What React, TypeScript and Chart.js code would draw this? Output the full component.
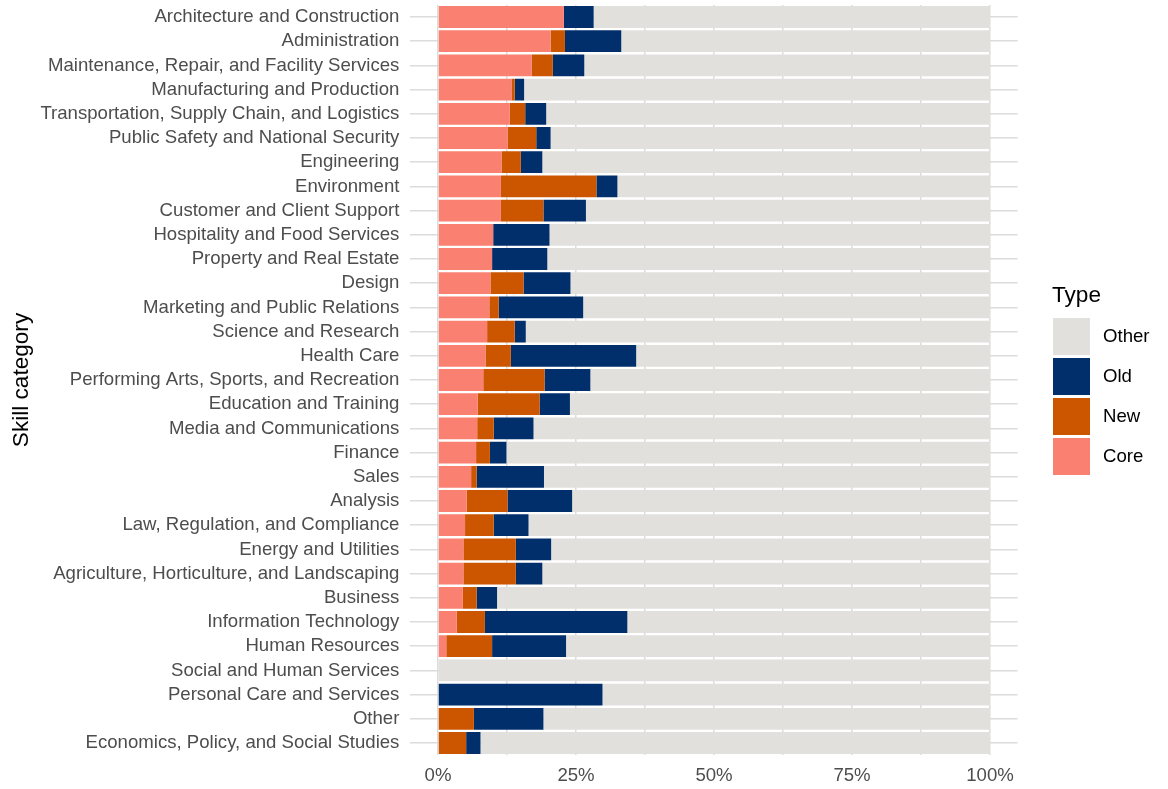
import React, { useEffect, useRef } from "react";
import { Chart, registerables } from "chart.js";

Chart.register(...registerables);

const categories = [
  "Architecture and Construction",
  "Administration",
  "Maintenance, Repair, and Facility Services",
  "Manufacturing and Production",
  "Transportation, Supply Chain, and Logistics",
  "Public Safety and National Security",
  "Engineering",
  "Environment",
  "Customer and Client Support",
  "Hospitality and Food Services",
  "Property and Real Estate",
  "Design",
  "Marketing and Public Relations",
  "Science and Research",
  "Health Care",
  "Performing Arts, Sports, and Recreation",
  "Education and Training",
  "Media and Communications",
  "Finance",
  "Sales",
  "Analysis",
  "Law, Regulation, and Compliance",
  "Energy and Utilities",
  "Agriculture, Horticulture, and Landscaping",
  "Business",
  "Information Technology",
  "Human Resources",
  "Social and Human Services",
  "Personal Care and Services",
  "Other",
  "Economics, Policy, and Social Studies",
];

const coreValues = [
  22.8, 20.4, 17.0, 13.3, 13.0, 12.6, 11.5, 11.4, 11.4, 10.0, 9.8, 9.5, 9.3,
  8.9, 8.6, 8.2, 7.2, 7.1, 6.9, 6.0, 5.2, 4.9, 4.6, 4.6, 4.5, 3.4, 1.5, 0, 0,
  0, 0,
];
const newValues = [
  0, 2.6, 3.8, 0.6, 2.8, 5.2, 3.5, 17.3, 7.7, 0, 0, 6.0, 1.7, 5.0, 4.6, 11.1,
  11.2, 3.0, 2.5, 1.0, 7.4, 5.2, 9.5, 9.5, 2.5, 5.1, 8.3, 0, 0, 6.5, 5.1,
];
const oldValues = [
  5.4, 10.2, 5.7, 1.7, 3.8, 2.6, 3.9, 3.8, 7.7, 10.2, 10.0, 8.5, 15.3, 2.0,
  22.7, 8.3, 5.5, 7.2, 3.0, 12.2, 11.7, 6.3, 6.4, 4.8, 3.7, 25.8, 13.4, 0,
  29.8, 12.6, 2.6,
];
const otherValues = [
  71.8, 66.8, 73.5, 84.4, 80.4, 79.6, 81.1, 67.5, 73.2, 79.8, 80.2, 76.0, 73.7,
  84.1, 64.1, 72.4, 76.1, 82.7, 87.6, 80.8, 75.7, 83.6, 79.5, 81.1, 89.3, 65.7,
  76.8, 100, 70.2, 80.9, 92.3,
];

const xTickValues = [0, 12.5, 25, 37.5, 50, 62.5, 75, 87.5, 100];
const xTickLabels = ["0%", "", "25%", "", "50%", "", "75%", "", "100%"];

const seriesNames = ["Core", "New", "Old", "Other"];
const seriesColors = ["#FA8072", "#CC5500", "#002F6C", "#E1E0DC"];

const FONT = "'Liberation Sans', Arial, sans-serif";
const TICK_SIZE = 18.6;
const TITLE_SIZE = 22.6;

const legendPlugin = {
  id: "typeLegend",
  afterDraw(chart: any) {
    const ctx = chart.ctx;
    ctx.save();
    ctx.fillStyle = "#000000";
    ctx.font = `${TITLE_SIZE}px ${FONT}`;
    ctx.textAlign = "left";
    ctx.textBaseline = "alphabetic";
    ctx.fillText("Type", 1052, 302);
    const ds = chart.data.datasets.slice().reverse();
    ds.forEach((d: any, i: number) => {
      const y = 318 + i * 40;
      ctx.fillStyle = d.backgroundColor;
      ctx.fillRect(1053, y, 37, 37);
      ctx.fillStyle = "#000000";
      ctx.font = `${TICK_SIZE}px ${FONT}`;
      ctx.textBaseline = "middle";
      ctx.fillText(d.label, 1103, y + 18.5);
    });
    ctx.restore();
  },
};

export default function App() {
  const ref = useRef<HTMLCanvasElement | null>(null);

  useEffect(() => {
    document.body.style.margin = "0";
    const canvas = ref.current;
    if (!canvas) return;
    const values = [coreValues, newValues, oldValues, otherValues];
    const chart = new Chart(canvas, {
      type: "bar",
      data: {
        labels: categories,
        datasets: seriesNames.map((name, i) => ({
          label: name,
          data: values[i],
          backgroundColor: seriesColors[i],
          borderWidth: 0,
          barPercentage: 0.9,
          categoryPercentage: 1.0,
        })),
      },
      options: {
        indexAxis: "y",
        animation: false,
        responsive: false,
        devicePixelRatio: 1,
        layout: { padding: { top: 4.9, right: 150.4, bottom: 0, left: 0 } },
        plugins: {
          legend: { display: false },
          tooltip: { enabled: false },
        },
        scales: {
          x: {
            type: "linear",
            stacked: true,
            min: -5,
            max: 105,
            afterBuildTicks: (scale: any) => {
              scale.ticks = xTickValues.map((v) => ({ value: v }));
            },
            afterFit: (scale: any) => {
              scale.height = 33.9;
              scale.paddingLeft = 0;
              scale.paddingRight = 0;
            },
            ticks: {
              callback: (_v: any, idx: number) => xTickLabels[idx],
              color: "#4D4D4D",
              font: { family: FONT, size: TICK_SIZE },
              padding: 10,
              maxRotation: 0,
              autoSkip: false,
            },
            grid: {
              color: "#DCDCDC",
              lineWidth: 1.5,
              drawTicks: false,
            },
            border: { display: false },
          },
          y: {
            type: "category",
            stacked: true,
            afterFit: (scale: any) => {
              scale.width = 410.4;
              scale.paddingTop = 0;
              scale.paddingBottom = 0;
            },
            ticks: {
              color: "#4D4D4D",
              font: { family: FONT, size: TICK_SIZE },
              padding: 11,
              autoSkip: false,
            },
            grid: {
              color: "#DCDCDC",
              lineWidth: 1.5,
              drawTicks: false,
              offset: false,
            },
            border: { display: false },
            title: {
              display: true,
              text: "Skill category",
              color: "#000000",
              font: { family: FONT, size: TITLE_SIZE },
              padding: { top: 8, bottom: 0 },
            },
          },
        },
      },
      plugins: [legendPlugin],
    });
    return () => chart.destroy();
  }, []);

  return (
    <div style={{ width: 1168, height: 789, overflow: "hidden" }}>
      <canvas ref={ref} width={1168} height={789} style={{ display: "block" }} />
    </div>
  );
}
